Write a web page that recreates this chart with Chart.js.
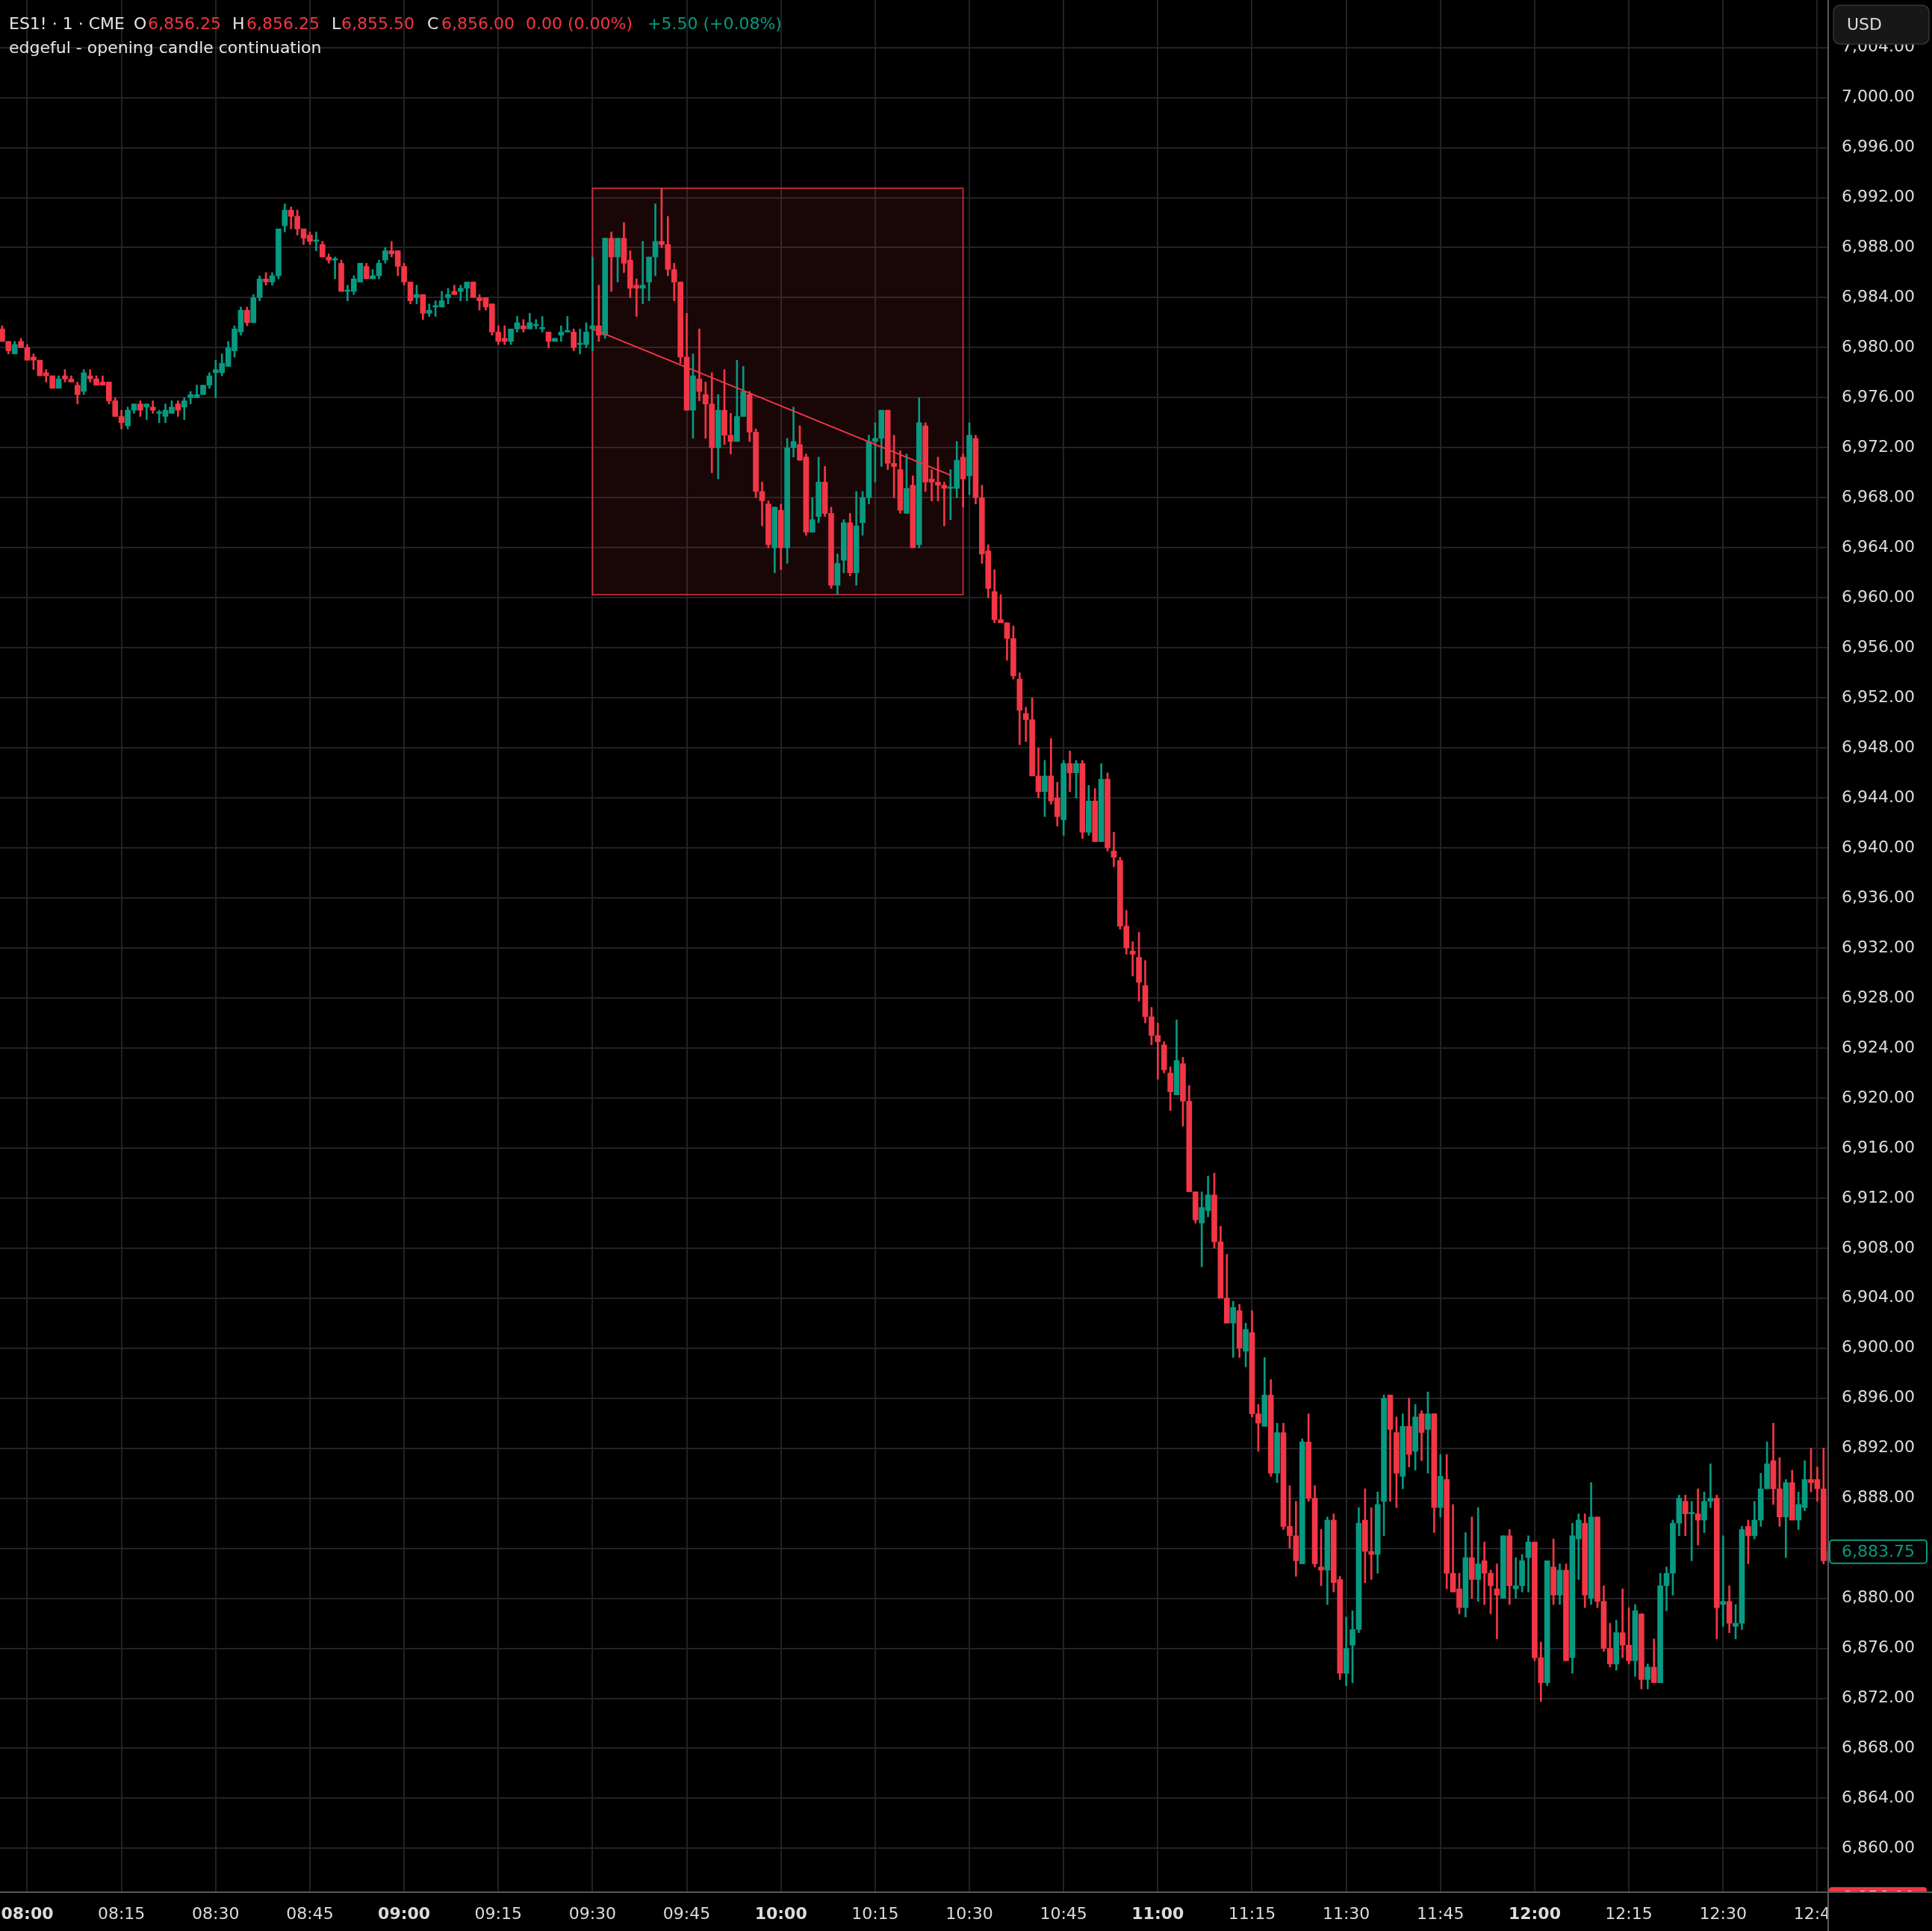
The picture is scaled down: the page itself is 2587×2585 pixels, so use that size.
<!DOCTYPE html>
<html>
<head>
<meta charset="utf-8">
<script src="https://cdn.jsdelivr.net/npm/chart.js@4.4.1/dist/chart.umd.min.js"></script>
<style>
  html, body { margin: 0; padding: 0; background: #000; overflow: hidden; }
  #wrap { width: 2587px; height: 2585px; }
</style>
</head>
<body>
<div id="wrap"><canvas id="chart"></canvas></div>
<script>
// ES1! 1-minute candles, 07:56 - 12:47
const times = [
  '07:56','07:57','07:58','07:59',
  '08:00','08:01','08:02','08:03','08:04','08:05','08:06','08:07','08:08','08:09','08:10','08:11','08:12','08:13','08:14',
  '08:15','08:16','08:17','08:18','08:19','08:20','08:21','08:22','08:23','08:24','08:25','08:26','08:27','08:28','08:29',
  '08:30','08:31','08:32','08:33','08:34','08:35','08:36','08:37','08:38','08:39','08:40','08:41','08:42','08:43','08:44',
  '08:45','08:46','08:47','08:48','08:49','08:50','08:51','08:52','08:53','08:54','08:55','08:56','08:57','08:58','08:59',
  '09:00','09:01','09:02','09:03','09:04','09:05','09:06','09:07','09:08','09:09','09:10','09:11','09:12','09:13','09:14',
  '09:15','09:16','09:17','09:18','09:19','09:20','09:21','09:22','09:23','09:24','09:25','09:26','09:27','09:28','09:29',
  '09:30','09:31','09:32','09:33','09:34','09:35','09:36','09:37','09:38','09:39','09:40','09:41','09:42','09:43','09:44',
  '09:45','09:46','09:47','09:48','09:49','09:50','09:51','09:52','09:53','09:54','09:55','09:56','09:57','09:58','09:59',
  '10:00','10:01','10:02','10:03','10:04','10:05','10:06','10:07','10:08','10:09','10:10','10:11','10:12','10:13','10:14',
  '10:15','10:16','10:17','10:18','10:19','10:20','10:21','10:22','10:23','10:24','10:25','10:26','10:27','10:28','10:29',
  '10:30','10:31','10:32','10:33','10:34','10:35','10:36','10:37','10:38','10:39','10:40','10:41','10:42','10:43','10:44',
  '10:45','10:46','10:47','10:48','10:49','10:50','10:51','10:52','10:53','10:54','10:55','10:56','10:57','10:58','10:59',
  '11:00','11:01','11:02','11:03','11:04','11:05','11:06','11:07','11:08','11:09','11:10','11:11','11:12','11:13','11:14',
  '11:15','11:16','11:17','11:18','11:19','11:20','11:21','11:22','11:23','11:24','11:25','11:26','11:27','11:28','11:29',
  '11:30','11:31','11:32','11:33','11:34','11:35','11:36','11:37','11:38','11:39','11:40','11:41','11:42','11:43','11:44',
  '11:45','11:46','11:47','11:48','11:49','11:50','11:51','11:52','11:53','11:54','11:55','11:56','11:57','11:58','11:59',
  '12:00','12:01','12:02','12:03','12:04','12:05','12:06','12:07','12:08','12:09','12:10','12:11','12:12','12:13','12:14',
  '12:15','12:16','12:17','12:18','12:19','12:20','12:21','12:22','12:23','12:24','12:25','12:26','12:27','12:28','12:29',
  '12:30','12:31','12:32','12:33','12:34','12:35','12:36','12:37','12:38','12:39','12:40','12:41','12:42','12:43','12:44',
  '12:45','12:46','12:47'
];

const opens = [
  6981.5, 6980.5, 6979.5, 6980.5,
  6980.0, 6979.25, 6979.0, 6978.0, 6977.75, 6976.75, 6977.75, 6977.5, 6977.0, 6976.5, 6977.75, 6977.5, 6977.25, 6977.25, 6975.75,
  6974.5, 6973.75, 6975.0, 6975.5, 6975.25, 6975.25, 6974.75, 6974.5, 6974.75, 6975.5, 6975.25, 6976.0, 6976.0, 6976.25, 6977.0,
  6978.0, 6978.0, 6978.5, 6979.75, 6981.25, 6983.0, 6982.0, 6984.0, 6985.5, 6985.25, 6985.75, 6989.75, 6991.0, 6990.5, 6989.5,
  6989.0, 6988.5, 6988.25, 6987.25, 6987.0, 6986.75, 6984.5, 6984.5, 6985.25, 6986.5, 6985.5, 6985.75, 6987.0, 6987.75, 6987.75,
  6986.5, 6985.25, 6984.0, 6984.25, 6982.75, 6983.25, 6983.25, 6984.0, 6984.5, 6984.5, 6984.75, 6985.25, 6984.0, 6984.0, 6983.5,
  6981.25, 6980.75, 6980.5, 6981.5, 6981.75, 6981.5, 6981.75, 6981.5, 6981.25, 6980.5, 6981.0, 6981.25, 6981.25, 6980.25, 6980.25,
  6981.5, 6981.75, 6981.0, 6988.75, 6987.25, 6988.75, 6987.0, 6985.0, 6984.75, 6985.25, 6987.25, 6988.5, 6988.25, 6986.25, 6985.25,
  6979.25, 6975.0, 6977.5, 6976.25, 6975.5, 6972.0, 6975.0, 6973.0, 6972.5, 6974.5, 6976.25, 6973.25, 6968.5, 6967.5, 6964.0,
  6967.0, 6964.0, 6972.0, 6972.25, 6971.25, 6965.25, 6966.5, 6969.25, 6966.75, 6961.0, 6963.0, 6966.0, 6962.0, 6966.0, 6968.0,
  6972.5, 6972.75, 6975.0, 6970.75, 6970.25, 6966.75, 6969.0, 6964.25, 6973.75, 6969.5, 6969.25, 6969.0, 6968.75, 6968.75, 6971.25,
  6969.75, 6972.75, 6968.0, 6963.75, 6960.5, 6958.25, 6958.0, 6956.75, 6953.5, 6950.75, 6950.25, 6945.75, 6944.5, 6945.75, 6944.0,
  6942.25, 6946.75, 6946.0, 6946.75, 6941.25, 6943.75, 6940.5, 6945.5, 6939.75, 6939.0, 6933.75, 6931.75, 6931.25, 6929.0, 6926.5,
  6925.0, 6924.25, 6922.0, 6920.25, 6922.75, 6919.75, 6912.5, 6910.0, 6911.0, 6912.25, 6908.5, 6904.0, 6902.0, 6903.0, 6899.75,
  6901.25, 6894.75, 6893.75, 6896.25, 6890.0, 6893.25, 6885.75, 6885.0, 6882.75, 6892.5, 6888.0, 6882.5, 6882.25, 6886.25, 6881.5,
  6874.0, 6876.25, 6877.5, 6886.25, 6883.75, 6883.5, 6887.75, 6896.25, 6893.25, 6889.75, 6893.75, 6891.75, 6894.75, 6893.5, 6894.75,
  6887.25, 6889.5, 6882.0, 6880.75, 6879.25, 6883.25, 6881.5, 6883.0, 6882.0, 6880.75, 6880.0, 6885.0, 6880.75, 6881.0, 6883.25,
  6884.5, 6875.25, 6873.25, 6882.5, 6880.25, 6882.25, 6875.25, 6884.75, 6886.0, 6880.0, 6886.5, 6879.75, 6876.0, 6874.75, 6877.25,
  6876.25, 6875.0, 6878.75, 6873.5, 6874.5, 6873.25, 6881.0, 6882.0, 6886.0, 6887.75, 6886.75, 6886.75, 6886.25, 6887.75, 6888.0,
  6879.5, 6879.75, 6877.75, 6878.0, 6885.75, 6885.0, 6886.25, 6888.75, 6891.0, 6888.75, 6886.5, 6889.25, 6886.25, 6887.25, 6889.5,
  6889.5, 6888.75, 6883.0
];

const highs = [
  6981.75, 6980.5, 6980.5, 6980.75,
  6980.25, 6979.5, 6979.0, 6978.25, 6977.75, 6977.75, 6978.25, 6977.75, 6977.25, 6978.25, 6978.25, 6977.75, 6977.75, 6977.25, 6976.0,
  6975.0, 6975.25, 6975.5, 6975.75, 6975.5, 6975.75, 6975.0, 6975.5, 6975.75, 6975.75, 6976.0, 6976.5, 6977.0, 6977.0, 6978.0,
  6979.0, 6979.5, 6980.5, 6981.75, 6983.25, 6983.25, 6984.25, 6985.75, 6986.0, 6986.0, 6989.5, 6991.5, 6991.25, 6991.0, 6989.5,
  6989.25, 6989.25, 6988.5, 6987.5, 6987.25, 6987.0, 6985.0, 6985.75, 6986.75, 6986.75, 6986.25, 6987.0, 6988.0, 6988.5, 6987.75,
  6986.75, 6985.25, 6985.0, 6984.25, 6983.5, 6983.75, 6984.5, 6984.75, 6985.0, 6985.0, 6985.25, 6985.25, 6984.25, 6984.0, 6983.5,
  6981.75, 6981.75, 6981.5, 6982.5, 6982.25, 6982.75, 6982.25, 6982.5, 6981.25, 6980.75, 6981.75, 6982.5, 6981.5, 6981.5, 6982.0,
  6987.25, 6985.0, 6988.75, 6989.25, 6988.75, 6990.0, 6987.75, 6985.5, 6988.5, 6987.25, 6991.5, 6992.75, 6990.5, 6986.75, 6985.25,
  6982.75, 6979.5, 6981.5, 6977.25, 6978.0, 6976.25, 6978.25, 6974.75, 6979.0, 6978.5, 6976.5, 6973.5, 6969.25, 6967.75, 6967.25,
  6967.5, 6972.75, 6975.25, 6973.75, 6971.5, 6968.0, 6971.25, 6970.5, 6967.25, 6963.5, 6966.25, 6966.75, 6968.5, 6968.5, 6973.0,
  6974.0, 6975.0, 6975.0, 6973.0, 6971.75, 6971.5, 6969.75, 6976.0, 6974.0, 6970.25, 6971.25, 6969.25, 6970.25, 6972.5, 6971.5,
  6974.0, 6973.0, 6969.0, 6964.25, 6962.25, 6960.25, 6958.0, 6957.75, 6954.0, 6951.25, 6952.0, 6948.0, 6947.0, 6948.75, 6945.25,
  6947.0, 6947.75, 6947.0, 6947.0, 6945.0, 6944.75, 6946.75, 6946.0, 6941.25, 6939.25, 6935.0, 6932.5, 6933.25, 6931.0, 6927.25,
  6926.0, 6924.5, 6922.5, 6926.25, 6923.25, 6921.0, 6912.5, 6912.5, 6913.75, 6914.0, 6909.75, 6907.5, 6903.75, 6903.5, 6902.0,
  6903.0, 6895.5, 6899.25, 6897.5, 6894.0, 6894.0, 6889.0, 6887.75, 6892.75, 6894.75, 6889.0, 6885.5, 6886.5, 6886.75, 6881.75,
  6878.5, 6879.0, 6887.25, 6888.75, 6887.25, 6888.5, 6896.25, 6896.25, 6894.5, 6894.75, 6896.0, 6895.5, 6895.0, 6896.5, 6894.75,
  6891.5, 6891.5, 6887.5, 6882.0, 6885.25, 6886.5, 6887.25, 6884.5, 6882.25, 6882.75, 6885.0, 6885.5, 6883.25, 6883.5, 6885.0,
  6884.5, 6876.5, 6883.0, 6884.75, 6882.75, 6882.75, 6886.0, 6886.75, 6886.75, 6889.25, 6886.5, 6881.0, 6878.0, 6878.25, 6880.75,
  6879.25, 6879.5, 6878.75, 6874.75, 6876.75, 6882.0, 6882.5, 6886.25, 6888.25, 6888.25, 6887.75, 6888.75, 6888.5, 6890.75, 6888.25,
  6885.0, 6881.0, 6879.5, 6885.75, 6886.25, 6887.75, 6890.0, 6892.5, 6894.0, 6891.25, 6889.5, 6890.25, 6888.5, 6891.0, 6892.0,
  6890.5, 6892.0, 6883.75
];

const lows = [
  6980.5, 6979.5, 6979.5, 6980.0,
  6979.0, 6978.25, 6977.75, 6977.25, 6976.75, 6976.75, 6977.25, 6977.25, 6975.5, 6976.25, 6977.25, 6977.0, 6977.0, 6975.5, 6974.5,
  6973.5, 6973.5, 6974.75, 6974.5, 6974.25, 6974.75, 6974.0, 6974.0, 6974.75, 6974.5, 6974.25, 6975.5, 6976.0, 6976.25, 6976.75,
  6976.0, 6977.75, 6978.5, 6979.25, 6981.0, 6981.75, 6982.0, 6983.75, 6985.0, 6985.0, 6985.5, 6989.25, 6989.5, 6989.0, 6988.25,
  6988.25, 6987.75, 6987.25, 6986.75, 6985.5, 6984.5, 6983.75, 6984.25, 6985.25, 6985.5, 6985.5, 6985.5, 6986.75, 6987.25, 6985.75,
  6985.0, 6983.5, 6983.5, 6982.25, 6982.5, 6982.5, 6983.25, 6983.5, 6984.25, 6983.75, 6983.75, 6984.0, 6983.0, 6983.0, 6981.0,
  6980.25, 6980.25, 6980.25, 6981.25, 6981.25, 6981.5, 6981.5, 6981.25, 6980.0, 6980.5, 6980.5, 6981.25, 6979.75, 6979.5, 6980.0,
  6979.75, 6980.5, 6980.75, 6984.5, 6985.25, 6986.0, 6984.0, 6982.5, 6983.5, 6983.75, 6985.75, 6988.0, 6985.75, 6983.75, 6978.75,
  6975.0, 6972.75, 6975.75, 6972.75, 6970.0, 6969.5, 6972.25, 6971.5, 6972.5, 6974.5, 6972.5, 6968.0, 6965.75, 6964.0, 6962.0,
  6962.25, 6962.75, 6971.25, 6971.0, 6965.0, 6965.25, 6966.0, 6966.5, 6960.75, 6960.25, 6962.0, 6961.75, 6961.0, 6965.0, 6967.5,
  6969.25, 6970.5, 6970.25, 6968.0, 6966.75, 6966.75, 6964.0, 6964.0, 6968.5, 6967.75, 6967.75, 6965.75, 6966.25, 6968.0, 6967.25,
  6968.25, 6967.5, 6962.75, 6960.0, 6958.0, 6958.0, 6955.0, 6953.5, 6948.25, 6948.5, 6945.75, 6944.0, 6942.5, 6943.5, 6941.75,
  6941.0, 6944.5, 6944.0, 6940.75, 6941.0, 6940.5, 6940.5, 6939.75, 6938.5, 6933.5, 6931.5, 6929.75, 6927.75, 6926.0, 6924.25,
  6921.5, 6922.0, 6919.0, 6920.25, 6917.75, 6912.5, 6910.0, 6906.5, 6910.5, 6908.0, 6904.0, 6902.0, 6899.25, 6899.25, 6898.5,
  6894.5, 6891.75, 6893.75, 6889.75, 6889.25, 6885.5, 6884.0, 6881.75, 6882.75, 6887.75, 6882.5, 6881.0, 6879.5, 6880.5, 6873.5,
  6873.0, 6873.25, 6877.25, 6881.25, 6881.5, 6882.0, 6885.0, 6887.75, 6887.25, 6888.75, 6890.5, 6890.25, 6891.0, 6890.0, 6885.25,
  6886.5, 6880.75, 6880.5, 6878.75, 6878.5, 6880.0, 6879.75, 6879.5, 6878.75, 6876.75, 6880.0, 6879.5, 6880.0, 6880.5, 6880.5,
  6875.0, 6871.75, 6873.0, 6879.5, 6879.5, 6875.0, 6874.0, 6881.5, 6879.25, 6879.5, 6879.25, 6875.75, 6874.5, 6874.25, 6875.25,
  6874.75, 6873.75, 6872.75, 6872.75, 6873.25, 6873.25, 6879.0, 6880.25, 6885.0, 6885.0, 6883.0, 6884.25, 6885.25, 6887.25, 6876.75,
  6877.75, 6877.25, 6876.75, 6877.5, 6882.75, 6884.75, 6885.75, 6888.75, 6887.5, 6885.75, 6883.25, 6886.25, 6885.5, 6887.0, 6888.5,
  6887.75, 6882.75, 6883.0
];

const closes = [
  6980.5, 6979.75, 6980.25, 6980.0,
  6979.0, 6979.0, 6977.75, 6977.75, 6976.75, 6977.5, 6977.5, 6977.25, 6976.25, 6978.0, 6977.5, 6977.0, 6977.0, 6975.75, 6974.5,
  6974.0, 6975.0, 6975.5, 6975.0, 6975.5, 6975.0, 6974.75, 6975.0, 6975.25, 6975.0, 6975.75, 6976.25, 6976.25, 6977.0, 6977.75,
  6978.25, 6978.75, 6980.0, 6981.5, 6983.0, 6982.0, 6984.0, 6985.5, 6985.25, 6985.75, 6989.5, 6991.0, 6990.5, 6989.5, 6988.75,
  6988.5, 6988.5, 6987.25, 6987.0, 6987.0, 6984.5, 6984.5, 6985.5, 6986.75, 6985.5, 6985.75, 6986.75, 6987.75, 6987.5, 6986.5,
  6985.25, 6983.75, 6984.25, 6982.75, 6983.0, 6983.25, 6983.75, 6984.25, 6984.25, 6984.75, 6985.25, 6984.0, 6983.75, 6983.25, 6981.25,
  6980.5, 6980.5, 6981.5, 6982.0, 6981.5, 6982.0, 6981.75, 6981.5, 6980.5, 6980.75, 6981.25, 6981.25, 6980.0, 6980.25, 6981.25,
  6981.75, 6981.0, 6988.75, 6987.25, 6988.75, 6986.75, 6984.75, 6984.75, 6985.0, 6987.25, 6988.5, 6988.25, 6986.25, 6985.25, 6979.25,
  6975.0, 6977.75, 6976.5, 6975.5, 6972.0, 6975.0, 6973.0, 6972.5, 6974.5, 6976.5, 6973.25, 6968.5, 6967.75, 6964.25, 6967.25,
  6964.0, 6972.0, 6972.5, 6971.0, 6965.25, 6966.25, 6969.25, 6966.75, 6961.0, 6962.75, 6966.0, 6962.0, 6965.75, 6968.0, 6972.5,
  6972.75, 6975.0, 6970.75, 6970.5, 6967.0, 6968.75, 6964.0, 6974.0, 6969.25, 6969.25, 6969.0, 6968.75, 6968.75, 6971.0, 6969.5,
  6973.0, 6968.0, 6963.5, 6960.75, 6958.25, 6958.0, 6956.75, 6953.75, 6951.0, 6950.25, 6945.75, 6944.5, 6945.75, 6943.75, 6942.5,
  6946.75, 6946.0, 6946.75, 6941.25, 6943.75, 6940.5, 6945.5, 6940.0, 6939.25, 6933.75, 6932.0, 6931.5, 6929.25, 6926.5, 6925.0,
  6924.5, 6922.25, 6920.5, 6923.0, 6919.75, 6912.5, 6910.25, 6911.25, 6912.25, 6908.5, 6904.0, 6902.0, 6903.25, 6900.0, 6901.5,
  6894.75, 6894.0, 6896.25, 6890.0, 6893.25, 6885.75, 6885.0, 6883.0, 6892.5, 6888.0, 6882.75, 6882.25, 6886.25, 6881.25, 6874.0,
  6876.0, 6877.5, 6886.0, 6883.75, 6883.5, 6887.5, 6896.0, 6893.5, 6890.0, 6893.75, 6891.5, 6894.5, 6893.25, 6894.75, 6887.25,
  6889.75, 6882.0, 6880.5, 6879.25, 6883.25, 6881.5, 6882.75, 6882.0, 6881.0, 6880.25, 6885.0, 6881.0, 6881.0, 6883.0, 6884.5,
  6875.25, 6873.25, 6883.0, 6880.25, 6882.25, 6875.0, 6885.0, 6886.25, 6880.25, 6886.5, 6879.75, 6876.0, 6874.75, 6877.25, 6876.25,
  6875.0, 6879.0, 6873.5, 6874.5, 6873.25, 6881.0, 6882.0, 6886.0, 6888.0, 6886.75, 6886.75, 6886.25, 6887.75, 6888.0, 6879.25,
  6879.75, 6878.0, 6878.0, 6885.5, 6885.0, 6886.25, 6888.75, 6890.75, 6888.75, 6886.5, 6889.25, 6886.25, 6887.5, 6889.5, 6889.25,
  6888.75, 6883.0, 6883.75
];

const timeTicks = ['08:00','08:15','08:30','08:45','09:00','09:15','09:30','09:45','10:00',
                   '10:15','10:30','10:45','11:00','11:15','11:30','11:45','12:00','12:15','12:30','12:45'];

// opening range box and the line drawn inside it
const rangeStart = '09:30', rangeEnd = '10:29';
const rangeHigh = 6992.75, rangeLow = 6960.25;
const trendFrom = ['09:30', 6981.5], trendTo = ['10:27', 6969.8];

const lastPrice = 6883.75;
const livePrice = 6856.00;

const headerParts = [
  { text: 'ES1! · 1 · CME', x: 12, color: '#e6e6e6' },
  { text: 'O', x: 179, color: '#e6e6e6' }, { text: '6,856.25', x: 198, color: '#F23645' },
  { text: 'H', x: 311, color: '#e6e6e6' }, { text: '6,856.25', x: 330, color: '#F23645' },
  { text: 'L', x: 444, color: '#e6e6e6' }, { text: '6,855.50', x: 457, color: '#F23645' },
  { text: 'C', x: 572, color: '#e6e6e6' }, { text: '6,856.00', x: 591, color: '#F23645' },
  { text: '0.00 (0.00%)', x: 704, color: '#F23645' },
  { text: '+5.50 (+0.08%)', x: 867, color: '#089981' }
];
const indicatorName = 'edgeful - opening candle continuation';

const UP = '#089981', DOWN = '#F23645';
const FONT = '"DejaVu Sans", sans-serif';
const toMin = t => { const [h, m] = t.split(':').map(Number); return (h - 8) * 60 + m; };

const xs = times.map(toMin);
const colors = closes.map((c, i) => c >= opens[i] ? UP : DOWN);

function fmt(v) {
    return v.toLocaleString('en-US', { minimumFractionDigits: 2, maximumFractionDigits: 2 });
}

function roundRect(ctx, x, y, w, h, r) {
    ctx.beginPath();
    ctx.moveTo(x + r, y);
    ctx.arcTo(x + w, y, x + w, y + h, r);
    ctx.arcTo(x + w, y + h, x, y + h, r);
    ctx.arcTo(x, y + h, x, y, r);
    ctx.arcTo(x, y, x + w, y, r);
    ctx.closePath();
}

const overlays = {
    id: 'overlays',
    beforeDatasetsDraw(chart) {
        const { ctx, scales: { x, y } } = chart;
        const x0 = x.getPixelForValue(toMin(rangeStart));
        const x1 = x.getPixelForValue(toMin(rangeEnd));
        const y0 = y.getPixelForValue(rangeHigh);
        const y1 = y.getPixelForValue(rangeLow);
        ctx.save();
        ctx.fillStyle = 'rgba(242, 54, 69, 0.10)';
        ctx.fillRect(x0, y0, x1 - x0, y1 - y0);
        ctx.strokeStyle = 'rgba(242, 54, 69, 0.72)';
        ctx.lineWidth = 2;
        ctx.strokeRect(x0, y0, x1 - x0, y1 - y0);
        ctx.restore();
    },
    afterDatasetsDraw(chart) {
        const { ctx, scales: { x, y } } = chart;
        ctx.save();
        ctx.strokeStyle = '#F23645';
        ctx.lineWidth = 2;
        ctx.beginPath();
        ctx.moveTo(x.getPixelForValue(toMin(trendFrom[0])), y.getPixelForValue(trendFrom[1]));
        ctx.lineTo(x.getPixelForValue(toMin(trendTo[0])), y.getPixelForValue(trendTo[1]));
        ctx.stroke();
        ctx.restore();
    },
    afterDraw(chart) {
        const { ctx, chartArea, scales: { y } } = chart;
        const W = chart.width, H = chart.height;
        const axisX = chartArea.right;
        ctx.save();

        // live price tag (mostly hidden under the time axis)
        const yl = y.getPixelForValue(livePrice);
        ctx.fillStyle = DOWN;
        roundRect(ctx, axisX + 2, yl - 15, 131, 32, 4);
        ctx.fill();
        ctx.fillStyle = '#ffffff';
        ctx.font = '22px ' + FONT;
        ctx.textBaseline = 'middle';
        ctx.textAlign = 'left';
        ctx.fillText(fmt(livePrice), axisX + 19, yl);

        // bottom-right corner
        ctx.fillStyle = '#000';
        ctx.fillRect(axisX, chartArea.bottom, W - axisX, H - chartArea.bottom);

        // last price tag
        const yp = y.getPixelForValue(lastPrice);
        ctx.fillStyle = '#000';
        roundRect(ctx, axisX + 3, yp - 15, 130, 31, 4);
        ctx.fill();
        ctx.strokeStyle = UP;
        ctx.lineWidth = 2;
        ctx.stroke();
        ctx.fillStyle = UP;
        ctx.fillText(fmt(lastPrice), axisX + 19, yp + 1);

        // axis separators
        ctx.fillStyle = '#58585c';
        ctx.fillRect(axisX, 0, 2, H);
        ctx.fillRect(0, chartArea.bottom - 1, W, 2);

        // currency button
        roundRect(ctx, 2455, 7, 128, 52, 9);
        ctx.fillStyle = '#171717';
        ctx.fill();
        ctx.strokeStyle = '#3a3236';
        ctx.lineWidth = 1.5;
        ctx.stroke();
        ctx.fillStyle = '#dcdcdc';
        ctx.fillText('USD', 2473, 34);

        // header
        ctx.font = '22px ' + FONT;
        headerParts.forEach(p => {
            ctx.fillStyle = p.color;
            ctx.fillText(p.text, p.x, 33);
        });
        ctx.fillStyle = '#e6e6e6';
        ctx.fillText(indicatorName, 12, 65);
        ctx.restore();
    }
};

const ctx = document.getElementById('chart').getContext('2d');
const chart = new Chart(ctx, {
    type: 'bar',
    data: {
        datasets: [
            {
                label: 'wick',
                data: xs.map((v, i) => ({ x: v, y: [lows[i], highs[i]] })),
                backgroundColor: colors,
                barThickness: 2,
                grouped: false,
                order: 2,
                borderWidth: 0
            },
            {
                label: 'body',
                data: xs.map((v, i) => ({ x: v, y: [opens[i], closes[i]] })),
                backgroundColor: colors,
                barThickness: 7,
                minBarLength: 2,
                grouped: false,
                order: 1,
                borderWidth: 0
            }
        ]
    },
    options: {
        responsive: true,
        maintainAspectRatio: false,
        animation: false,
        devicePixelRatio: 1,
        layout: { padding: 0 },
        plugins: {
            legend: { display: false },
            tooltip: { enabled: false }
        },
        scales: {
            x: {
                type: 'linear',
                offset: false,
                min: -4.34,
                max: 286.62,
                afterFit: scale => {
                    scale.height = 52;
                    scale.paddingLeft = 0;
                    scale.paddingRight = 0;
                },
                afterBuildTicks: scale => {
                    scale.ticks = timeTicks.map(t => ({ value: toMin(t) }));
                },
                grid: { color: '#222226', lineWidth: 2, drawTicks: false, offset: false },
                border: { display: false },
                ticks: {
                    autoSkip: false,
                    maxRotation: 0,
                    padding: 17,
                    color: '#dcdcdc',
                    font: c => ({
                        family: FONT,
                        size: 22,
                        weight: (c.tick && c.tick.value % 60 === 0) ? 'bold' : 'normal'
                    }),
                    callback: (value, index) => timeTicks[index]
                }
            },
            y: {
                position: 'right',
                min: 6856.5,
                max: 7007.8,
                afterFit: scale => {
                    scale.width = 140;
                    scale.paddingTop = 0;
                    scale.paddingBottom = 0;
                },
                afterBuildTicks: scale => {
                    scale.ticks = scale.ticks.filter(t => t.value >= scale.min && t.value <= scale.max);
                },
                grid: { color: '#222226', lineWidth: 2, drawTicks: false },
                border: { display: false },
                ticks: {
                    stepSize: 4,
                    includeBounds: false,
                    padding: 19,
                    color: '#dcdcdc',
                    font: { family: FONT, size: 22 },
                    callback: value => fmt(value)
                }
            }
        }
    },
    plugins: [overlays]
});
</script>
</body>
</html>
